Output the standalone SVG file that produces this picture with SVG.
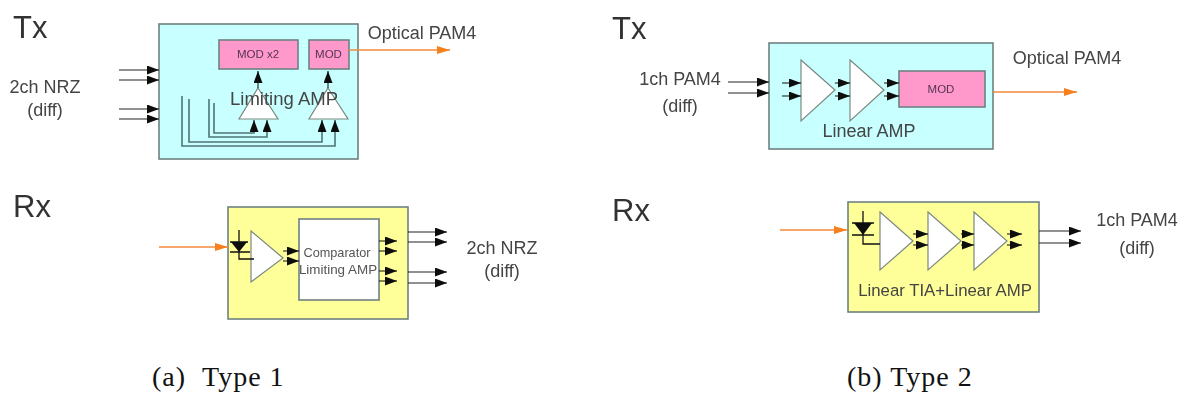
<svg xmlns="http://www.w3.org/2000/svg" width="1181" height="394" viewBox="0 0 1181 394">
<style>
text{font-family:"Liberation Sans",Arial,sans-serif;fill:#444;font-size:18px}
.c{text-anchor:middle}
.big{font-size:31px;fill:#333}
.cap{font-family:"Liberation Serif","Times New Roman",serif;font-size:28px;letter-spacing:1px;fill:#111}
.box{stroke:#6f8080;stroke-width:1.6}
.cy{fill:#c8ffff}.ye{fill:#ffff99}.pk{fill:#ff99cc}.wh{fill:#fff}
.tri{fill:#fff;stroke:#7a8a80;stroke-width:1.2}
.w{fill:none;stroke:#222;stroke-width:1.1;marker-end:url(#ah)}
.g{fill:none;stroke:#4f7575;stroke-width:1.6;marker-end:url(#ah)}
.o{fill:none;stroke:#f58a3c;stroke-width:1.5;marker-end:url(#oh)}
.d{fill:none;stroke:#111;stroke-width:1.3}
.df{fill:#111}
.small{font-size:11.5px;fill:#553355}
.mid{fill:#555}
</style>
<defs>
<filter id="soft" x="-2%" y="-2%" width="104%" height="104%"><feGaussianBlur stdDeviation="0.7"/></filter>
<marker id="ah" markerUnits="userSpaceOnUse" markerWidth="12" markerHeight="9" refX="12" refY="4.5" orient="auto"><path d="M0 0L12 4.5L0 9z" fill="#111"/></marker>
<marker id="oh" markerUnits="userSpaceOnUse" markerWidth="13" markerHeight="10" refX="13" refY="5" orient="auto"><path d="M0 1L13 5L0 9z" fill="#f5801e"/></marker>
</defs>
<g filter="url(#soft)">
<g id="tx-a">
<rect class="box cy" x="159" y="24" width="199" height="135"/>
<rect class="box pk" x="219" y="40" width="79" height="29"/>
<rect class="box pk" x="309" y="40" width="40" height="29"/>
<path class="tri" d="M258 88L278 119H239z"/>
<path class="tri" d="M328 88L348 119H309z"/>
<text class="small c" x="258" y="58">MOD x2</text>
<text class="small c" x="328.500" y="58">MOD</text>
<text class="c" x="284" y="105" style="font-size:18.500px">Limiting AMP</text>
</g>
<g id="rx-a">
<rect class="box ye" x="228" y="207" width="180" height="112"/>
<rect class="box wh" x="299" y="219" width="80" height="81"/>
<path class="tri" d="M251 231L283 258L251 282z"/>
<text class="mid c" x="337" y="257" style="font-size:12.700px">Comparator</text>
<text class="mid c" x="338" y="274" style="font-size:13.400px">Limiting AMP</text>
</g>
<g id="tx-b">
<rect class="box cy" x="769" y="43" width="224" height="106"/>
<rect class="box pk" x="899" y="71" width="86" height="36"/>
<path class="tri" d="M801 60L835 90L801 121z"/>
<path class="tri" d="M850 60L884 90L850 121z"/>
<text class="small c" x="941" y="93">MOD</text>
<text class="c" x="869" y="137">Linear AMP</text>
</g>
<g id="rx-b">
<rect class="box ye" x="848" y="202" width="191" height="110"/>
<path class="tri" d="M880 212L913 241L880 270z"/>
<path class="tri" d="M928 212L961 241L928 270z"/>
<path class="tri" d="M974 212L1007 241L974 270z"/>
<text class="c" x="945" y="296" style="font-size:16.800px">Linear TIA+Linear AMP</text>
</g>
<g id="connectors">
<path class="w" d="M119 70H159"/>
<path class="w" d="M119 80H159"/>
<path class="w" d="M119 109H159"/>
<path class="w" d="M119 119H159"/>
<path class="w" d="M258 88V71"/>
<path class="w" d="M328 88V71"/>
<path class="w" d="M283 251H299"/>
<path class="w" d="M283 261H299"/>
<path class="w" d="M379 241H397"/>
<path class="w" d="M379 251H397"/>
<path class="w" d="M379 271H397"/>
<path class="w" d="M379 281H397"/>
<path class="w" d="M408 232H447"/>
<path class="w" d="M408 242H447"/>
<path class="w" d="M408 272H447"/>
<path class="w" d="M408 283H447"/>
<path class="w" d="M728 82H769"/>
<path class="w" d="M728 93H769"/>
<path class="w" d="M782 83H801"/>
<path class="w" d="M782 96H801"/>
<path class="w" d="M835 83H850"/>
<path class="w" d="M835 96H850"/>
<path class="w" d="M884 83H899"/>
<path class="w" d="M884 96H899"/>
<path class="w" d="M913 234H928"/>
<path class="w" d="M913 245H928"/>
<path class="w" d="M961 234H974"/>
<path class="w" d="M961 245H974"/>
<path class="w" d="M1007 234H1022"/>
<path class="w" d="M1007 245H1022"/>
<path class="w" d="M1039 231H1081"/>
<path class="w" d="M1039 243H1081"/>
<path class="g" d="M214 103V133H254V120"/>
<path class="g" d="M209 99V137H267V120"/>
<path class="g" d="M189 99V142H322V120"/>
<path class="g" d="M182 96V146H335V120"/>
<path class="o" d="M349 50H450"/>
<path class="o" d="M159 247H228"/>
<path class="o" d="M993 92H1077"/>
<path class="o" d="M780 230H847"/>
<path class="d" d="M230 242H248M239 230V259H254M230 252H250"/>
<path class="df" d="M231 242H247L239 252z"/>
<path class="d" d="M852 223H874M863 211V244H880M852 235H874"/>
<path class="df" d="M854 223H872L863 235z"/>
</g>
<g id="labels">
<text class="big" x="13" y="38">Tx</text>
<text class="big" x="13" y="217">Rx</text>
<text class="big" x="612" y="39">Tx</text>
<text class="big" x="612" y="221">Rx</text>
<text class="c" x="45" y="93">2ch NRZ</text>
<text class="c" x="45" y="116">(diff)</text>
<text class="c" x="422" y="39">Optical PAM4</text>
<text class="c" x="502" y="254">2ch NRZ</text>
<text class="c" x="502" y="277">(diff)</text>
<text class="c" x="680" y="85">1ch PAM4</text>
<text class="c" x="680" y="112">(diff)</text>
<text class="c" x="1067" y="64">Optical PAM4</text>
<text class="c" x="1137" y="226">1ch PAM4</text>
<text class="c" x="1137" y="254">(diff)</text>
</g>
</g>
<text class="cap" y="386"><tspan x="152">(a)</tspan> <tspan x="202">Type 1</tspan></text>
<text class="cap" x="847" y="386">(b) Type 2</text>
</svg>
